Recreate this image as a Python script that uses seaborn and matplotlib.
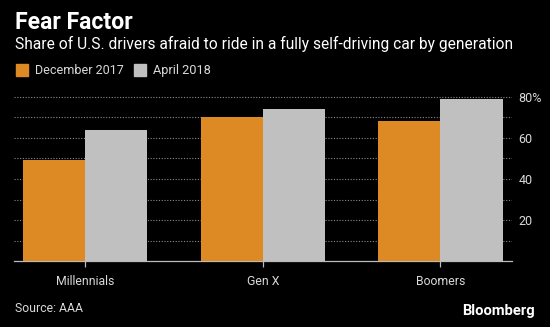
import matplotlib
matplotlib.use("Agg")
import matplotlib.pyplot as plt
import seaborn as sns
import pandas as pd
from matplotlib.patches import Rectangle
from matplotlib import font_manager

categories = ["Millennials", "Gen X", "Boomers"]
dec_2017 = [49, 70, 68]
apr_2018 = [64, 74, 79]
series_names = ["December 2017", "April 2018"]
y_ticks = [20, 40, 60, 80]
y_tick_labels = ["20", "40", "60", "80%"]

df = pd.DataFrame({
    "generation": categories * 2,
    "share": dec_2017 + apr_2018,
    "period": [series_names[0]] * 3 + [series_names[1]] * 3,
})

sns.set_theme(style="dark")
FAM = "Roboto"
for cand in ["Liberation Sans Narrow", "Roboto"]:
    try:
        font_manager.findfont(cand, fallback_to_default=False)
        FAM = cand
        break
    except Exception:
        pass
plt.rcParams['font.family'] = [FAM, 'DejaVu Sans']

BG = "black"
ORANGE = "#DE8A24"
GRAY = "#C0C0C0"
TXT = "#D9D9D9"
W, H = 550, 327

fig = plt.figure(figsize=(5.5, 3.27), dpi=100, facecolor=BG)
ax = fig.add_axes([14/W, 1-261.3/H, (511.5-14)/W, 168.7/H])
ax.set_facecolor(BG)

sns.barplot(data=df, x="generation", y="share", hue="period",
            palette=[ORANGE, GRAY], width=0.7, saturation=1,
            ax=ax, legend=False, zorder=3)
for p in ax.patches:
    p.set_edgecolor("none")

ax.set_xlim(-0.4, 2.4)
ax.set_ylim(0, 82)
ax.set_yticks(range(10, 81, 10))
ax.set_yticklabels(["" if v not in y_ticks else y_tick_labels[y_ticks.index(v)] for v in range(10, 81, 10)])
ax.yaxis.tick_right()
ax.grid(axis="y", color="#8a8a8a", linestyle=(0, (1, 1.5)), linewidth=0.8, zorder=0)
ax.grid(axis="x", visible=False)
for s in ["top", "left", "right"]:
    ax.spines[s].set_visible(False)
ax.spines["bottom"].set_color("#BBBBBB")
ax.spines["bottom"].set_linewidth(0.9)
ax.set_xlabel("")
ax.set_ylabel("")
ax.tick_params(axis="y", length=0, pad=5, labelcolor=TXT, labelsize=9)
ax.tick_params(axis="x", length=4, width=0.9, color="#BBBBBB", direction="out",
               bottom=True, labelcolor=TXT, labelsize=8.8, pad=6)

renderer = fig.canvas.get_renderer()

def fit_text(x, y, s, target_w, size, **kw):
    t = fig.text(x/W, 1-y/H, s, fontsize=size, va="center", **kw)
    w = t.get_window_extent(renderer).width
    t.set_fontsize(size * target_w / w)
    return t

fit_text(15, 22.7, "Fear Factor", 118, 14, color="white", fontweight="bold", ha="left")
fit_text(15, 44.3,
         "Share of U.S. drivers afraid to ride in a fully self-driving car by generation",
         493, 11, color="white", ha="left")
# legend
for (sx, tx, tw), name, col in zip([(16, 34.7, 88), (134, 152.7, 57.5)],
                                   series_names, [ORANGE, GRAY]):
    fig.patches.append(Rectangle((sx/W, 1-76/H), 11.5/W, 11.5/H,
                                 transform=fig.transFigure, color=col, figure=fig))
    fit_text(tx, 70.5, name, tw, 10, color=TXT, ha="left")
fit_text(14.7, 308.7, "Source: AAA", 68, 10, color=TXT, ha="left")
fit_text(534.3, 311.3, "Bloomberg", 73, 10.5, color="white", fontweight="bold", ha="right")

fig.savefig("out.png", dpi=100, facecolor=BG)
